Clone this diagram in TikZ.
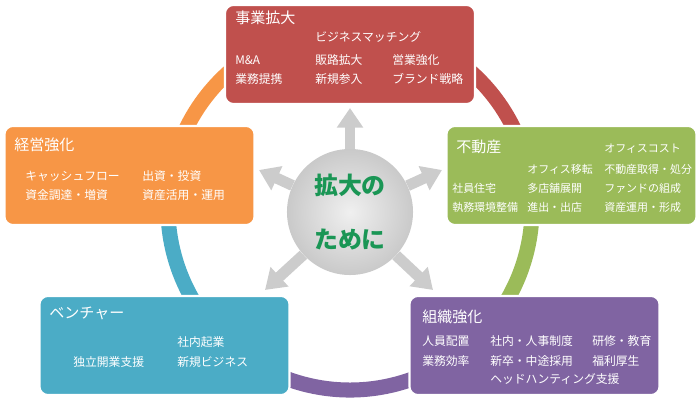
\documentclass[tikz,border=0pt]{standalone}
\usepackage{fontspec}
\newfontfamily\jp{Noto Sans CJK JP}
\usetikzlibrary{arrows.meta}

\definecolor{bizred}{HTML}{C0504D}
\definecolor{estgreen}{HTML}{9BBB59}
\definecolor{mgmtorange}{HTML}{F79646}
\definecolor{ventblue}{HTML}{4BACC6}
\definecolor{orgpurple}{HTML}{8064A2}
\definecolor{hubgreen}{RGB}{26,150,85}

\begin{document}
\begin{tikzpicture}[x=0.025cm, y=-0.025cm,
        panel/.style={draw=white, line width=1.5pt, rounded corners=6pt, minimum width=6.25cm, minimum height=2.475cm, inner sep=0pt},
        title/.style={anchor=west, inner sep=0pt, text=white, font=\jp\fontsize{10.7}{12}\selectfont},
        item/.style={anchor=west, inner sep=0pt, text=white, font=\jp\fontsize{8.4}{10}\selectfont},
        smallitem/.style={item, font=\jp\fontsize{7.8}{9}\selectfont},
        ring/.style={line width=10.7pt},
        hub/.style={circle, minimum size=3.15cm, inner sep=0pt, inner color=gray!12, outer color=gray!42, align=center, text=hubgreen, font=\jp\bfseries\fontsize{17}{39}\selectfont},
        spoke/.style={draw=gray!40, line width=7.8pt, -{Triangle[width=18pt, length=14pt]}}
    ]
        \useasboundingbox (0,0) rectangle (700,400);

        % Ring behind the boxes
        \coordinate (ringc) at (350,208);
        \draw[ring, bizred] ([shift={(90:4.55cm)}]ringc) arc[start angle=90, end angle=20, radius=4.55cm];
        \draw[ring, estgreen] ([shift={(20:4.55cm)}]ringc) arc[start angle=20, end angle=-60, radius=4.55cm];
        \draw[ring, orgpurple] ([shift={(-60:4.55cm)}]ringc) arc[start angle=-60, end angle=-120, radius=4.55cm];
        \draw[ring, ventblue] ([shift={(-120:4.55cm)}]ringc) arc[start angle=-120, end angle=-180, radius=4.55cm];
        \draw[ring, mgmtorange] ([shift={(-180:4.55cm)}]ringc) arc[start angle=-180, end angle=-270, radius=4.55cm];

        % Business expansion (top)
        \node[panel, fill=bizred] (biz) at (350,54.5) {};
        \node[title] (biz_title) at (235,18) {事業拡大};
        \foreach \t/\x/\y [count=\i] in {ビジネスマッチング/315/37, M\&A/235/60, 販路拡大/315/60, 営業強化/392/60,
                                          業務提携/235/79, 新規参入/315/79, ブランド戦略/392/79} {
            \node[item] (biz\i) at (\x,\y) {\t};
        }

        % Real estate (right)
        \node[panel, fill=estgreen] (est) at (571.5,175.5) {};
        \node[title] (est_title) at (456,147) {不動産};
        \foreach \t/\x/\y [count=\i] in {オフィスコスト/604/149, オフィス移転/527/169, 不動産取得・処分/604/169,
                                          社員住宅/452/188, 多店舗展開/527/188, ファンドの組成/604/188,
                                          執務環境整備/452/207, 進出・出店/527/207, 資産運用・形成/604/207} {
            \node[smallitem] (est\i) at (\x,\y) {\t};
        }

        % Management (left)
        \node[panel, fill=mgmtorange] (mgmt) at (129.5,175.5) {};
        \node[title] (mgmt_title) at (14,145) {経営強化};
        \foreach \t/\x/\y [count=\i] in {キャッシュフロー/25/176, 出資・投資/142/176,
                                          資金調達・増資/25/195, 資産活用・運用/142/195} {
            \node[item] (mgmt\i) at (\x,\y) {\t};
        }

        % Venture (bottom left)
        \node[panel, fill=ventblue] (vent) at (164.5,345.5) {};
        \node[title] (vent_title) at (49,313) {ベンチャー};
        \foreach \t/\x/\y [count=\i] in {社内起業/177/342, 独立開業支援/73/362, 新規ビジネス/177/362} {
            \node[item] (vent\i) at (\x,\y) {\t};
        }

        % Organisation (bottom right)
        \node[panel, fill=orgpurple] (org) at (534.5,345.5) {};
        \node[title] (org_title) at (422,317) {組織強化};
        \foreach \t/\x/\y [count=\i] in {人員配置/422/341, 社内・人事制度/490/341, 研修・教育/592/341,
                                          業務効率/422/361, 新卒・中途採用/490/361, 福利厚生/592/361,
                                          ヘッドハンティング支援/490/379} {
            \node[item] (org\i) at (\x,\y) {\t};
        }

        % Hub and spokes
        \node[hub] (hub) at (350,212) {拡大の\\ために};
        \coordinate (tip_n) at (350,108);
        \coordinate (tip_nw) at (259,170);
        \coordinate (tip_ne) at (442,170);
        \coordinate (tip_sw) at (265,290);
        \coordinate (tip_se) at (433,290);
        \foreach \d in {n,nw,ne,sw,se} {
            \draw[spoke] (hub) -- (tip_\d);
        }
    \end{tikzpicture}
\end{document}
